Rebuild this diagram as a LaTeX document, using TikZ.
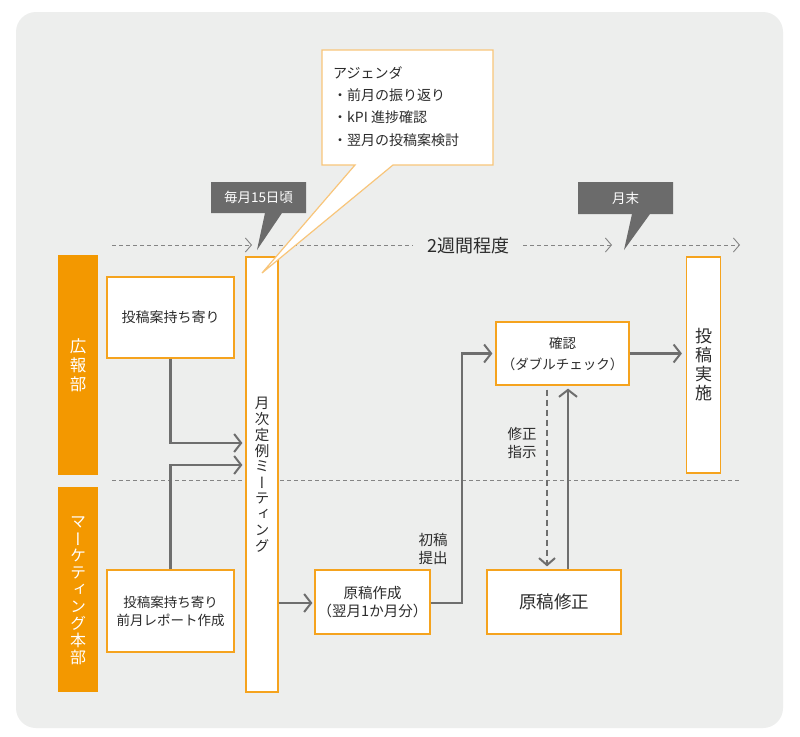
\documentclass[tikz,border=0pt]{standalone}
\usepackage{fontspec}
\setmainfont{Noto Sans CJK JP}
\newfontfamily\vjp[RawFeature=+vert]{Noto Sans CJK JP}
\usetikzlibrary{arrows.meta}
\definecolor{bg}{HTML}{EDEEED}
\definecolor{orangebar}{HTML}{F39800}
\definecolor{boxline}{HTML}{F5A31E}
\definecolor{calline}{HTML}{F8C57A}
\definecolor{conn}{HTML}{6E6E6E}
\definecolor{tagfill}{HTML}{6B6B6B}
\definecolor{txt}{HTML}{2B2B2B}
\newlength{\vstepl}
\newcommand{\vrow}[1]{\hbox to 2em{\hss\vbox to \vstepl{\vss\hbox{#1}\vss}\hss}}
\newcommand{\vstack}[2]{\setlength{\vstepl}{#1}\vbox{\offinterlineskip #2}}
\newcommand{\vsz}[1]{\vjp\fontsize{#1}{#1}\selectfont}
\tikzset{
  stepbox/.style={draw=boxline, line width=1.2pt, fill=white, inner sep=0pt, align=center, text=txt, font=\fontsize{13.5}{20}\selectfont},
  tallbox/.style={draw=boxline, line width=1.2pt, fill=white, inner sep=0pt, text=txt},
  deptbar/.style={fill=orangebar, inner sep=0pt, text=white},
  connline/.style={draw=conn, line width=2.2pt, -{Straight Barb[length=7pt,width=18pt,line width=2pt]}},
  dashconn/.style={draw=conn, line width=2pt, dash pattern=on 6pt off 4pt, -{Straight Barb[length=7pt,width=16pt,line width=2pt]}},
  timeline/.style={draw=conn!85, line width=0.9pt, dash pattern=on 4pt off 3pt},
  timearrow/.style={timeline, -{Straight Barb[length=6pt,width=14pt,line width=0.9pt]}},
  smalllabel/.style={align=center, text=txt, font=\fontsize{14.5}{18}\selectfont, inner sep=0pt},
}
\begin{document}
\begin{tikzpicture}[x=1pt,y=-1pt]
\useasboundingbox (0,0) rectangle (800,736);
\fill[white] (0,0) rectangle (800,736);
\fill[bg, rounded corners=20pt] (16,12) rectangle (783,728);

% timeline
\coordinate (t1a) at (112,245);
\coordinate (t1b) at (252,245);
\coordinate (t2a) at (272,245);
\coordinate (t2b) at (413,245);
\coordinate (t3a) at (523,245);
\coordinate (t3b) at (612,245);
\coordinate (t4a) at (633,245);
\coordinate (t4b) at (740,245);
\draw[timearrow] (t1a) -- (t1b);
\draw[timeline] (t2a) -- (t2b);
\draw[timearrow] (t3a) -- (t3b);
\draw[timearrow] (t4a) -- (t4b);
\node[text=txt, font=\fontsize{18}{20}\selectfont, inner sep=0pt] (span) at (468,246) {2週間程度};

% separator
\coordinate (sepa) at (112,480);
\coordinate (sepb) at (740,480);
\draw[draw=conn!85, line width=0.9pt, dash pattern=on 4pt off 3pt] (sepa) -- (sepb);

% department bars
\node[deptbar, minimum width=40pt, minimum height=220pt, font=\vsz{16.5}] (koho) at (78,365)
  {\vstack{19pt}{\vrow{広}\vrow{報}\vrow{部}}};
\node[deptbar, minimum width=40pt, minimum height=205pt, font=\vsz{16}] (mkt) at (78,589.5)
  {\vstack{16.9pt}{\vrow{マ}\vrow{ー}\vrow{ケ}\vrow{テ}\vrow{ィ}\vrow{ン}\vrow{グ}\vrow{本}\vrow{部}}};

% boxes
\node[stepbox, minimum width=127pt, minimum height=81pt, font=\fontsize{14}{20}\selectfont] (hq1) at (170.5,317.5) {投稿案持ち寄り};
\node[stepbox, minimum width=127pt, minimum height=82pt] (mk1) at (170.5,611) {投稿案持ち寄り\\[-2pt]前月レポート作成};
\node[tallbox, minimum width=32pt, minimum height=435pt, font=\vsz{14.5}] (meet) at (262,474.5)
  {\vstack{15.9pt}{\vrow{月}\vrow{次}\vrow{定}\vrow{例}\vrow{ミ}\vrow{ー}\vrow{テ}\vrow{ィ}\vrow{ン}\vrow{グ}}};
\node[stepbox, minimum width=115pt, minimum height=64pt, font=\fontsize{14.5}{20}\selectfont] (draft) at (372.5,602) {原稿作成\\[-1.5pt]（翌月1か月分）};
\node[stepbox, minimum width=133pt, minimum height=63pt, font=\fontsize{13.5}{22}\selectfont] (check) at (562.5,353.5) {確認\\[-1pt]（ダブルチェック）};
\node[stepbox, minimum width=134pt, minimum height=64pt, font=\fontsize{17.5}{20}\selectfont] (fix) at (554,602) {原稿修正};
\node[tallbox, minimum width=34pt, minimum height=216pt, font=\vsz{17}] (post) at (703.5,365)
  {\vstack{19pt}{\vrow{投}\vrow{稿}\vrow{実}\vrow{施}}};

% callout
\filldraw[fill=white, draw=calline, line width=1.2pt, line join=miter]
  (322,50) -- (493,50) -- (493,165) -- (393,165) -- (262,273) -- (355,165) -- (322,165) -- cycle;
\node[anchor=west, align=left, text=txt, font=\fontsize{14}{22.3}\selectfont, inner sep=0pt] (agenda) at (333,106.5)
  {アジェンダ\\・前月の振り返り\\・kPI 進捗確認\\・翌月の投稿案検討};

% tags
\fill[tagfill] (211,182) -- (306,182) -- (306,213) -- (282,213) -- (257,250) -- (265,213) -- (211,213) -- cycle;
\node[text=white, font=\fontsize{13.5}{15}\selectfont, inner sep=0pt] (tag1) at (258.5,197.5) {毎月15日頃};
\fill[tagfill] (578,182) -- (673,182) -- (673,214) -- (650,214) -- (624,250) -- (632,214) -- (578,214) -- cycle;
\node[text=white, font=\fontsize{13.5}{15}\selectfont, inner sep=0pt] (tag2) at (625.5,198) {月末};

% connectors
\draw[connline, shorten >=3pt] (hq1.south) |- (meet.west |- 0,443);
\draw[connline, shorten >=3pt] (mk1.north) |- (meet.west |- 0,465);
\draw[connline, shorten >=2pt] (meet.east |- 0,603) -- (draft.west |- 0,603);
\draw[connline, shorten >=3pt] (draft.east |- 0,603) -| (462,450) |- (check.west);
\draw[connline, shorten >=4pt] (check.east) -- (post.west |- check.east);
\draw[dashconn, shorten <=4pt, shorten >=3pt] (check.south -| 547,0) -- (fix.north -| 547,0);
\draw[connline, shorten >=3pt] (fix.north -| 568,0) -- (check.south -| 568,0);

% labels
\node[smalllabel] (lbl1) at (433,549) {初稿\\提出};
\node[smalllabel] (lbl2) at (522,443) {修正\\指示};
\end{tikzpicture}
\end{document}
